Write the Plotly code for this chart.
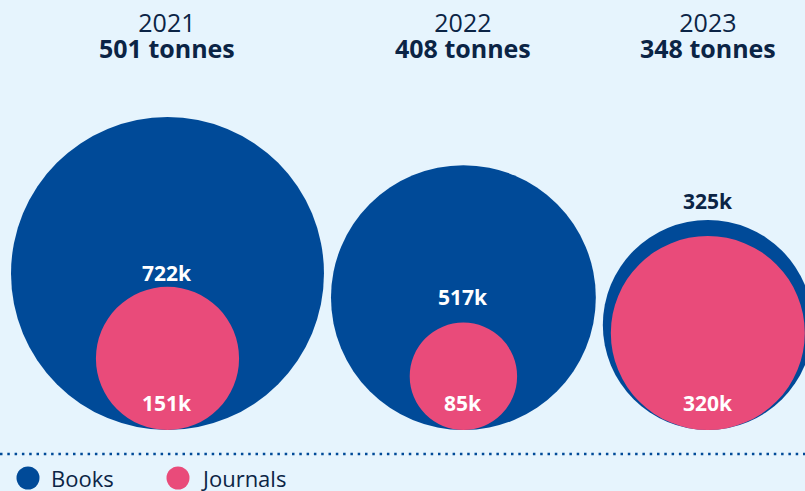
import math
import plotly.graph_objects as go

years = ["2021", "2022", "2023"]
tonnes = [501, 408, 348]
books_k = [722, 517, 325]
journals_k = [151, 85, 320]
series_names = ["Books", "Journals"]

BG = "#E6F4FD"
BLUE = "#004A98"
PINK = "#E94B7A"
NAVY = "#0B2445"
FONT = "Open Sans"

W, H = 805, 491
K = 5.824          # radius units per sqrt(thousand items)
GAP = 7
LEFT = 11
RING = 8           # minimum visible ring for near-equal circles

fig = go.Figure()
shapes = []
annotations = []

left = LEFT
for yr, t, b, j in zip(years, tonnes, books_k, journals_k):
    rb = K * math.sqrt(b)
    rj = min(K * math.sqrt(j), rb - RING)
    cx = left + rb
    shapes.append(dict(type="circle", xref="x", yref="y", x0=cx - rb, x1=cx + rb,
                       y0=0, y1=2 * rb, fillcolor=BLUE, line=dict(width=0), layer="below"))
    shapes.append(dict(type="circle", xref="x", yref="y", x0=cx - rj, x1=cx + rj,
                       y0=0, y1=2 * rj, fillcolor=PINK, line=dict(width=0), layer="below"))
    if 2 * rj < rb - 10:
        annotations.append(dict(x=cx, y=rb + 1, text=f"<b>{b}k</b>", showarrow=False,
                                font=dict(family=FONT, size=21, color="white")))
    else:
        annotations.append(dict(x=cx, y=2 * rb + 19, text=f"<b>{b}k</b>", showarrow=False,
                                font=dict(family=FONT, size=21, color=NAVY)))
    annotations.append(dict(x=cx, y=27, text=f"<b>{j}k</b>", showarrow=False,
                            font=dict(family=FONT, size=21, color="white")))
    header = (f"<span style='font-size:25px'>{yr}</span><br>"
              f"<span style='font-size:25px'><b>{t} tonnes</b></span>")
    annotations.append(dict(x=cx, y=395, text=header, showarrow=False, borderpad=0,
                            font=dict(family=FONT, size=20, color=NAVY)))
    left = cx + rb + GAP

shapes.append(dict(type="line", xref="x", yref="y", x0=0, x1=W, y0=-24, y1=-24,
                   line=dict(color=BLUE, width=2.5, dash="2.5px,4.8px")))

legend_x = [28, 178]
legend_colors = [BLUE, PINK]
for name, lx, col in zip(series_names, legend_x, legend_colors):
    fig.add_trace(go.Scatter(x=[lx], y=[-48], mode="markers",
                             marker=dict(size=23, color=col, line=dict(width=0)),
                             showlegend=False, hoverinfo="skip"))
    annotations.append(dict(x=lx + 22, y=-48, text=name, showarrow=False, xanchor="left",
                            borderpad=0, font=dict(family=FONT, size=22, color=NAVY)))

fig.update_layout(
    width=W, height=H,
    margin=dict(l=0, r=0, t=0, b=0),
    paper_bgcolor=BG, plot_bgcolor=BG,
    shapes=shapes, annotations=annotations,
    xaxis=dict(range=[0, W], visible=False, fixedrange=True),
    yaxis=dict(range=[430 - H, 430], visible=False, fixedrange=True),
    showlegend=False,
)
fig.write_html("out.html", config={"displayModeBar": False},
               post_script="document.body.style.margin='0';document.body.style.overflow='hidden';"
                           "document.body.style.background='" + BG + "';")
